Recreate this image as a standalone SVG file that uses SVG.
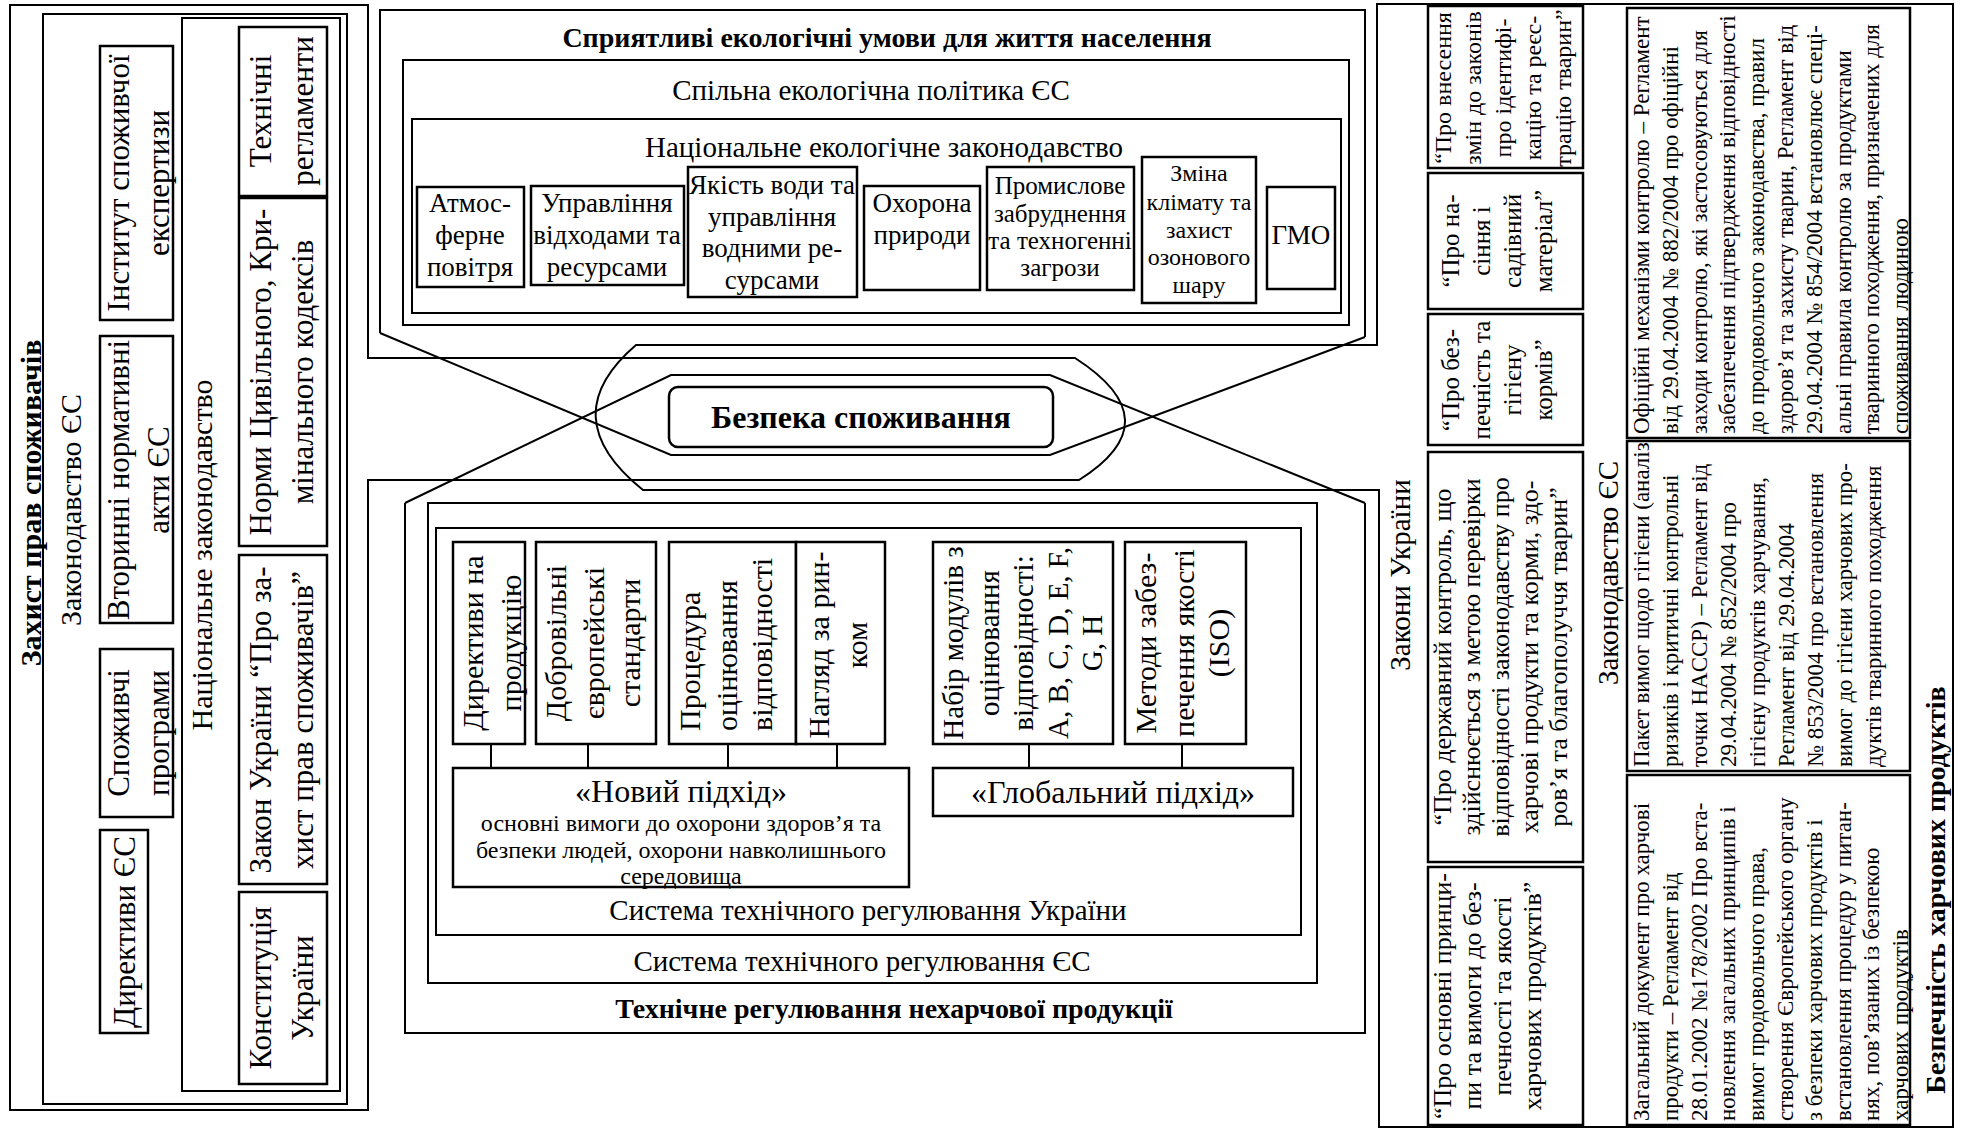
<svg xmlns="http://www.w3.org/2000/svg" width="1961" height="1130" viewBox="0 0 1961 1130">
<style>
text{font-family:"Liberation Serif","Times New Roman",serif;fill:#000;text-anchor:middle;dominant-baseline:central}
tspan{dominant-baseline:central}
.fr{fill:none;stroke:#000;stroke-width:2}
.bx{fill:#fff;stroke:#000;stroke-width:2.5}
.cn{fill:none;stroke:#000;stroke-width:2}
.ttl{font-weight:bold;font-size:28px}
.lb{font-size:29px}
.s31{font-size:31px}
.s30{font-size:30px}
.s29{font-size:29px}
.s27{font-size:27px}
.s26{font-size:26px}
.s25{font-size:25px}
.s24{font-size:24px}
.s23{font-size:23px}
.s32{font-size:32px}
.st{text-anchor:start}
</style>
<rect width="1961" height="1130" fill="#fff"/>

<!-- LEFT PANEL: consumer rights -->
<g id="consumer-rights">
<path class="fr" d="M1079,480 H368 V1110 H10 V5 H368 V358 H1075 Q1173,421 1079,480 Z"/>
<rect class="fr" x="43" y="14" width="304" height="1090"/>
<rect class="fr" x="182" y="18" width="158" height="1073"/>
<text class="ttl" style="font-size:30px" transform="translate(30,503) rotate(-90)">Захист прав споживачів</text>
<text class="s30" transform="translate(70,510) rotate(-90)">Законодавство ЄС</text>
<text class="s30" transform="translate(201,555) rotate(-90)">Національне законодавство</text>
<g id="cr-institute"><rect class="bx" x="100" y="46" width="73" height="274"/>
<text class="s31" transform="translate(118,183) rotate(-90)"><tspan x="0" y="0">Інститут споживчої</tspan><tspan x="0" y="40">експертизи</tspan></text></g>
<g id="cr-secondary"><rect class="bx" x="100" y="336" width="73" height="287"/>
<text class="s31" transform="translate(118,480) rotate(-90)"><tspan x="0" y="0">Вторинні нормативні</tspan><tspan x="0" y="40">акти ЄС</tspan></text></g>
<g id="cr-programs"><rect class="bx" x="100" y="649" width="73" height="168"/>
<text class="s31" transform="translate(118,733) rotate(-90)"><tspan x="0" y="0">Споживчі</tspan><tspan x="0" y="40">програми</tspan></text></g>
<g id="cr-directives"><rect class="bx" x="100" y="830" width="48" height="203"/>
<text class="s31" transform="translate(124,932) rotate(-90)">Директиви ЄС</text></g>
<g id="cr-techreg"><rect class="bx" x="239" y="27" width="88" height="169"/>
<text class="s31" transform="translate(260,111) rotate(-90)"><tspan x="0" y="0">Технічні</tspan><tspan x="0" y="42">регламенти</tspan></text></g>
<g id="cr-codes"><rect class="bx" x="239" y="198" width="88" height="348"/>
<text class="s31" transform="translate(260,372) rotate(-90)"><tspan x="0" y="0">Норми Цивільного, Кри-</tspan><tspan x="0" y="42">мінального кодексів</tspan></text></g>
<g id="cr-law"><rect class="bx" x="239" y="555" width="88" height="329"/>
<text class="s31" transform="translate(260,720) rotate(-90)"><tspan x="0" y="0">Закон України “Про за-</tspan><tspan x="0" y="42">хист прав споживачів”</tspan></text></g>
<g id="cr-constitution"><rect class="bx" x="239" y="892" width="88" height="192"/>
<text class="s31" transform="translate(260,988) rotate(-90)"><tspan x="0" y="0">Конституція</tspan><tspan x="0" y="42">України</tspan></text></g>
</g>

<!-- RIGHT PANEL: food safety -->
<g id="food-safety">
<path class="fr" d="M1377,345 V4 H1953 V1127 H1379 V490 H643 Q552,417 636,345 Z"/>
<text class="lb" transform="translate(1400,575) rotate(-90)">Закони України</text>
<text class="lb" transform="translate(1608,573) rotate(-90)">Законодавство ЄС</text>
<text class="ttl" transform="translate(1935,890) rotate(-90)">Безпечність харчових продуктів</text>
<g id="fs-identification"><rect class="bx" x="1428" y="6" width="155" height="162"/>
<text class="s24" transform="translate(1443,88) rotate(-90)"><tspan x="0" y="0">“Про внесення</tspan><tspan x="0" y="30">змін до законів</tspan><tspan x="0" y="60">про ідентифі-</tspan><tspan x="0" y="90">кацію та реєс-</tspan><tspan x="0" y="120">трацію тварин”</tspan></text></g>
<g id="fs-seeds"><rect class="bx" x="1428" y="173" width="155" height="136"/>
<text class="s25" transform="translate(1450,241) rotate(-90)"><tspan x="0" y="0">“Про на-</tspan><tspan x="0" y="31">сіння і</tspan><tspan x="0" y="62">садівний</tspan><tspan x="0" y="93">матеріал”</tspan></text></g>
<g id="fs-feed"><rect class="bx" x="1428" y="314" width="155" height="131"/>
<text class="s25" transform="translate(1450,380) rotate(-90)"><tspan x="0" y="0">“Про без-</tspan><tspan x="0" y="31">печність та</tspan><tspan x="0" y="62">гігієну</tspan><tspan x="0" y="93">кормів”</tspan></text></g>
<g id="fs-control"><rect class="bx" x="1428" y="452" width="155" height="410"/>
<text class="s26" transform="translate(1442,657) rotate(-90)"><tspan x="0" y="0">“Про державний контроль, що</tspan><tspan x="0" y="29">здійснюється з метою перевірки</tspan><tspan x="0" y="58">відповідності законодавству про</tspan><tspan x="0" y="87">харчові продукти та корми, здо-</tspan><tspan x="0" y="116">ров’я та благополуччя тварин”</tspan></text></g>
<g id="fs-principles"><rect class="bx" x="1428" y="867" width="155" height="258"/>
<text class="s26" transform="translate(1442,996) rotate(-90)"><tspan x="0" y="0">“Про основні принци-</tspan><tspan x="0" y="30">пи та вимоги до без-</tspan><tspan x="0" y="60">печності та якості</tspan><tspan x="0" y="90">харчових продуктів”</tspan></text></g>
<g id="fs-official"><rect class="bx" x="1627" y="8" width="283" height="430"/>
<text class="s23 st" transform="translate(1641,434) rotate(-90)"><tspan x="0" y="0">Офіційні механізми контролю – Регламент</tspan><tspan x="0" y="28.8">від 29.04.2004  № 882/2004 про офіційні</tspan><tspan x="0" y="57.6">заходи контролю, які застосовуються для</tspan><tspan x="0" y="86.4">забезпечення підтвердження відповідності</tspan><tspan x="0" y="115.2">до продовольчого законодавства, правил</tspan><tspan x="0" y="144">здоров’я та захисту тварин, Регламент від</tspan><tspan x="0" y="172.8">29.04.2004  № 854/2004 встановлює спеці-</tspan><tspan x="0" y="201.6">альні правила контролю за продуктами</tspan><tspan x="0" y="230.4">тваринного походження, призначених для</tspan><tspan x="0" y="259.2">споживання людиною</tspan></text></g>
<g id="fs-hygiene"><rect class="bx" x="1627" y="441" width="283" height="330"/>
<text class="s23 st" transform="translate(1641,767) rotate(-90)"><tspan x="0" y="0">Пакет вимог щодо гігієни (аналіз</tspan><tspan x="0" y="29">ризиків і критичні контрольні</tspan><tspan x="0" y="58">точки HACCP) – Регламент від</tspan><tspan x="0" y="87">29.04.2004  № 852/2004 про</tspan><tspan x="0" y="116">гігієну продуктів харчування,</tspan><tspan x="0" y="145">Регламент від 29.04.2004</tspan><tspan x="0" y="174">№ 853/2004 про встановлення</tspan><tspan x="0" y="203">вимог до гігієни харчових про-</tspan><tspan x="0" y="232">дуктів тваринного походження</tspan></text></g>
<g id="fs-general"><rect class="bx" x="1627" y="775" width="283" height="350"/>
<text class="s23 st" transform="translate(1641,1121) rotate(-90)"><tspan x="0" y="0">Загальний документ про харчові</tspan><tspan x="0" y="28.8">продукти – Регламент від</tspan><tspan x="0" y="57.6">28.01.2002  №178/2002 Про вста-</tspan><tspan x="0" y="86.4">новлення загальних принципів і</tspan><tspan x="0" y="115.2">вимог продовольчого права,</tspan><tspan x="0" y="144">створення Європейського органу</tspan><tspan x="0" y="172.8">з безпеки харчових продуктів і</tspan><tspan x="0" y="201.6">встановлення процедур у питан-</tspan><tspan x="0" y="230.4">нях, пов’язаних із безпекою</tspan><tspan x="0" y="259.2">харчових продуктів</tspan></text></g>
</g>

<!-- TOP PANEL: ecology -->
<g id="ecology">
<path class="fr" d="M380,333 V10 H1365 V337"/>
<rect class="fr" x="403" y="60" width="946" height="265"/>
<rect class="fr" x="412" y="119" width="929" height="194"/>
<text class="ttl" x="887" y="37">Сприятливі екологічні умови для життя населення</text>
<text class="lb" x="871" y="90">Спільна екологічна політика ЄС</text>
<text class="lb" x="884" y="147">Національне екологічне законодавство</text>
<g id="eco-air"><rect class="bx" x="417" y="187" width="107" height="100"/>
<text class="s27"><tspan x="470" y="203">Атмос-</tspan><tspan x="470" y="235">ферне</tspan><tspan x="470" y="267">повітря</tspan></text></g>
<g id="eco-waste"><rect class="bx" x="531" y="186" width="153" height="99"/>
<text class="s27"><tspan x="607" y="203">Управління</tspan><tspan x="607" y="235">відходами та</tspan><tspan x="607" y="267">ресурсами</tspan></text></g>
<g id="eco-water"><rect class="bx" x="688" y="167" width="169" height="130"/>
<text class="s27"><tspan x="772" y="185">Якість води та</tspan><tspan x="772" y="217">управління</tspan><tspan x="772" y="248">водними ре-</tspan><tspan x="772" y="280">сурсами</tspan></text></g>
<g id="eco-nature"><rect class="bx" x="864" y="186" width="116" height="104"/>
<text class="s27"><tspan x="922" y="203">Охорона</tspan><tspan x="922" y="235">природи</tspan></text></g>
<g id="eco-industry"><rect class="bx" x="987" y="167" width="147" height="123"/>
<text class="s25"><tspan x="1060" y="185">Промислове</tspan><tspan x="1060" y="213">забруднення</tspan><tspan x="1060" y="240">та техногенні</tspan><tspan x="1060" y="267">загрози</tspan></text></g>
<g id="eco-climate"><rect class="bx" x="1142" y="157" width="114" height="146"/>
<text class="s24"><tspan x="1199" y="173">Зміна</tspan><tspan x="1199" y="202">клімату та</tspan><tspan x="1199" y="230">захист</tspan><tspan x="1199" y="257">озонового</tspan><tspan x="1199" y="285">шару</tspan></text></g>
<g id="eco-gmo"><rect class="bx" x="1267" y="187" width="68" height="102"/>
<text class="s27" x="1301" y="235">ГМО</text></g>
</g>

<!-- BOTTOM PANEL: technical regulation -->
<g id="technical-regulation">
<path class="fr" d="M405,503 V1033 H1365 V503"/>
<rect class="fr" x="428" y="503" width="889" height="480"/>
<rect class="fr" x="436" y="528" width="865" height="407"/>
<text class="lb" x="868" y="910">Система технічного регулювання України</text>
<text class="lb" x="862" y="961">Система технічного регулювання ЄС</text>
<text class="ttl" x="894" y="1008">Технічне регулювання нехарчової продукції</text>
<g id="tr-directives"><rect class="bx" x="453" y="542" width="72" height="202"/>
<text class="s30" transform="translate(472,643) rotate(-90)"><tspan x="0" y="0">Директиви на</tspan><tspan x="0" y="38">продукцію</tspan></text></g>
<g id="tr-standards"><rect class="bx" x="536" y="542" width="120" height="202"/>
<text class="s30" transform="translate(555,643) rotate(-90)"><tspan x="0" y="0">Добровільні</tspan><tspan x="0" y="38">європейські</tspan><tspan x="0" y="74">стандарти</tspan></text></g>
<g id="tr-procedure"><rect class="bx" x="669" y="542" width="127" height="202"/>
<text class="s30 st" transform="translate(689,731) rotate(-90)"><tspan x="0" y="0">Процедура</tspan><tspan x="0" y="37">оцінювання</tspan><tspan x="0" y="72">відповідності</tspan></text></g>
<g id="tr-market"><rect class="bx" x="796" y="542" width="89" height="202"/>
<text class="s30" transform="translate(818,645) rotate(-90)"><tspan x="0" y="0">Нагляд за рин-</tspan><tspan x="0" y="38">ком</tspan></text></g>
<g id="tr-modules"><rect class="bx" x="933" y="542" width="180" height="202"/>
<text class="s29" transform="translate(953,643) rotate(-90)"><tspan x="0" y="0">Набір модулів з</tspan><tspan x="0" y="36">оцінювання</tspan><tspan x="0" y="70">відповідності:</tspan><tspan x="0" y="105">A, B, C, D, E, F,</tspan><tspan x="0" y="139">G, H</tspan></text></g>
<g id="tr-iso"><rect class="bx" x="1125" y="542" width="121" height="202"/>
<text class="s30" transform="translate(1145,643) rotate(-90)"><tspan x="0" y="0">Методи забез-</tspan><tspan x="0" y="38">печення якості</tspan><tspan x="0" y="73">(ISO)</tspan></text></g>
<g id="tr-new-approach"><rect class="bx" x="453" y="768" width="456" height="119"/>
<text class="s32" x="681" y="791">«Новий підхід»</text>
<text class="s24"><tspan x="681" y="823">основні вимоги до охорони здоров’я та</tspan><tspan x="681" y="850">безпеки людей, охорони навколишнього</tspan><tspan x="681" y="876">середовища</tspan></text></g>
<g id="tr-global-approach"><rect class="bx" x="933" y="768" width="360" height="48"/>
<text class="s32" x="1113" y="792">«Глобальний підхід»</text></g>
<g id="tr-links">
<path class="cn" d="M491,744 V768 M588,744 V768 M728,744 V768 M837,744 V768 M1029,744 V768 M1182,744 V768"/>
</g>
</g>

<!-- CONNECTORS to centre -->
<g id="connectors">
<path class="cn" d="M405,503 L671,375 H1050 L1365,503"/>
<path class="cn" d="M380,333 L671,455 H1050 L1365,337"/>
</g>

<!-- CENTRE -->
<g id="consumption-safety">
<rect x="669" y="387" width="384" height="60" rx="9" fill="#fff" stroke="#000" stroke-width="2.5"/>
<text style="font-weight:bold;font-size:32px" x="861" y="417">Безпека споживання</text>
</g>
</svg>
